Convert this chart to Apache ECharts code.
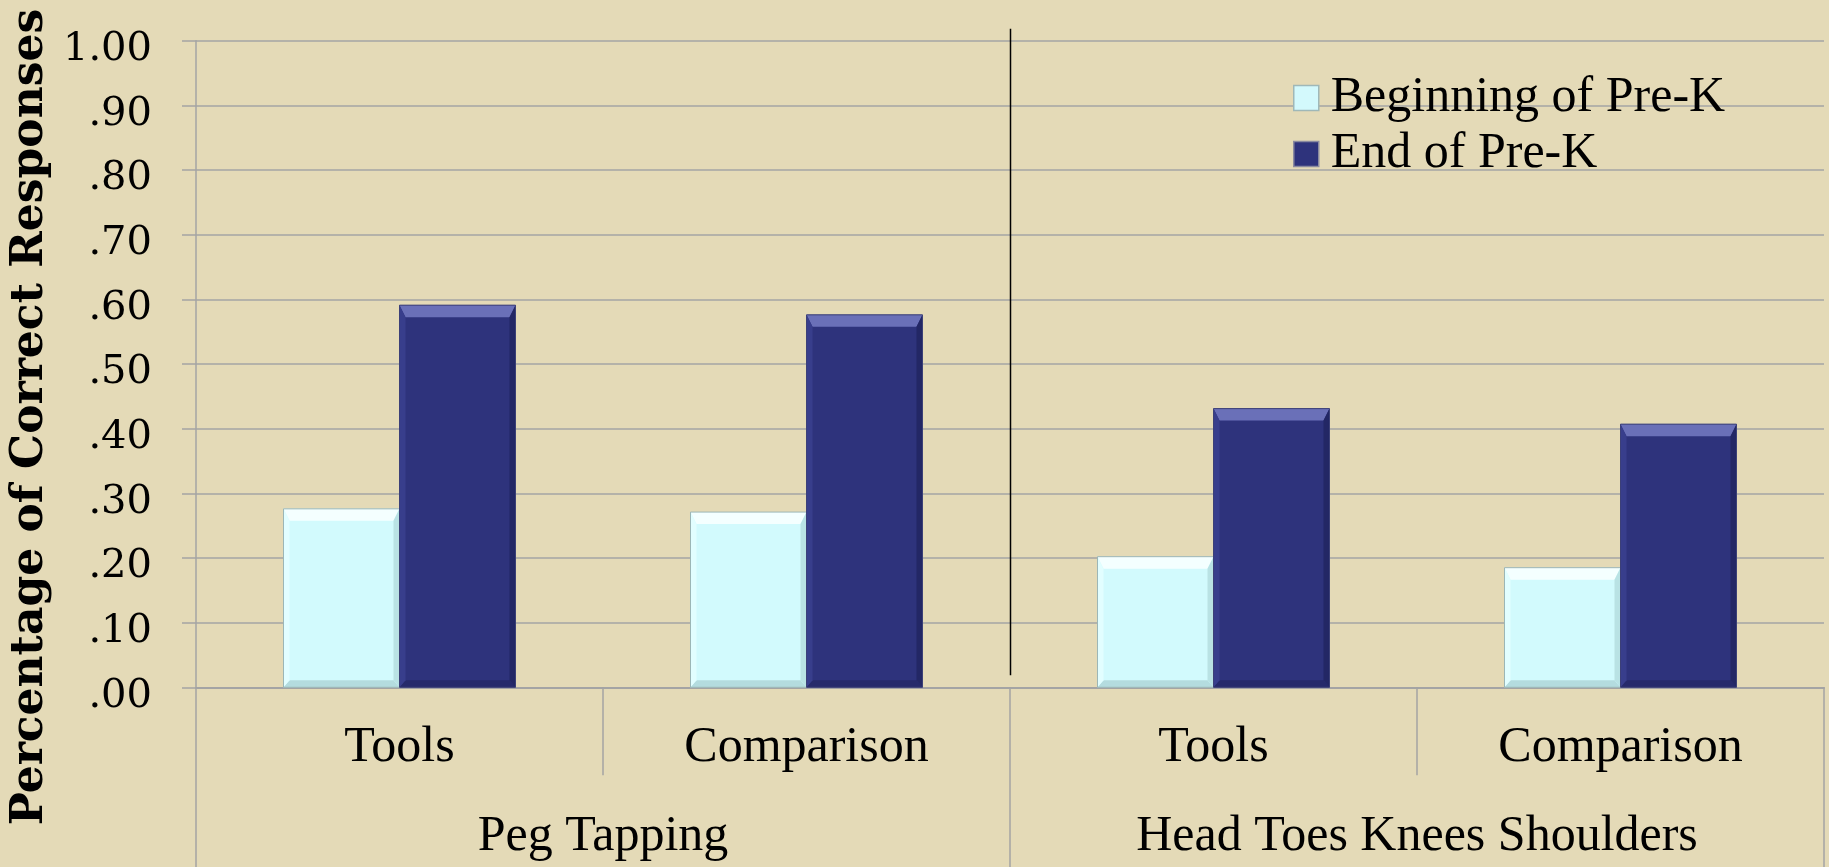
<!DOCTYPE html>
<html>
<head>
<meta charset="utf-8">
<script src="https://cdn.jsdelivr.net/npm/echarts@6/dist/echarts.min.js"></script>
<style>
html,body{margin:0;padding:0;background:#e4dab7;}
#chart{width:1829px;height:867px;}
</style>
</head>
<body>
<div id="chart"></div>
<script>
const categories = ['Tools', 'Comparison', 'Tools', 'Comparison'];
const groups = ['Peg Tapping', 'Head Toes Knees Shoulders'];
const seriesNames = ['Beginning of Pre-K', 'End of Pre-K'];
const beginningValues = [0.276, 0.271, 0.202, 0.185];
const endValues = [0.591, 0.576, 0.431, 0.407];
const yTickLabels = ['.00', '.10', '.20', '.30', '.40', '.50', '.60', '.70', '.80', '.90', '1.00'];
const yAxisTitle = 'Percentage of Correct Responses';

const gridColor = '#a4a4a4';
const palettes = [
  {main: '#d2fafd', top: '#f4ffff', left: '#e2feff', right: '#b9e2e4', bottom: '#b4dcdf', border: '#9cb6b6'},
  {main: '#2e337c', top: '#6a70b8', left: '#383e8c', right: '#232765', bottom: '#262a6b', border: '#3c4078'}
];
const chart = echarts.init(document.getElementById('chart'), null, {renderer: 'canvas'});

function makeRenderItem(seriesIdx) {
  const pal = palettes[seriesIdx];
  return function (params, api) {
    const idx = api.value(0);
    const val = api.value(1);
    const base = api.coord([idx, 0]);
    const topPt = api.coord([idx, val]);
    const band = api.size([1, 0])[0];
    const w = band * 0.285;
    const x0 = seriesIdx === 0 ? base[0] - w : base[0];
    const x1 = x0 + w;
    const y0 = topPt[1];
    const y1 = base[1];
    const bt = Math.min(12, (y1 - y0) / 2);
    const bs = 6;
    const bb = Math.min(7, (y1 - y0) / 2);
    return {
      type: 'group',
      children: [
        {type: 'rect', shape: {x: x0, y: y0, width: w, height: y1 - y0}, style: {fill: pal.main}},
        {type: 'polygon', shape: {points: [[x0, y0], [x1, y0], [x1 - bs, y0 + bt], [x0 + bs, y0 + bt]]}, style: {fill: pal.top}},
        {type: 'polygon', shape: {points: [[x0, y1], [x1, y1], [x1 - bs, y1 - bb], [x0 + bs, y1 - bb]]}, style: {fill: pal.bottom}},
        {type: 'polygon', shape: {points: [[x0, y0], [x0 + bs, y0 + bt], [x0 + bs, y1 - bb], [x0, y1]]}, style: {fill: pal.left}},
        {type: 'polygon', shape: {points: [[x1, y0], [x1 - bs, y0 + bt], [x1 - bs, y1 - bb], [x1, y1]]}, style: {fill: pal.right}},
        {type: 'rect', shape: {x: x0, y: y0, width: w, height: y1 - y0}, style: {fill: 'none', stroke: pal.border, lineWidth: 1}}
      ]
    };
  };
}

const option = {
  backgroundColor: '#e4dab7',
  animation: false,
  grid: {left: 196, right: 5, top: 40.7, bottom: 179.7, containLabel: false},
  legend: {
    orient: 'vertical',
    left: 1288,
    top: 68,
    itemWidth: 25,
    itemHeight: 25,
    itemGap: 6,
    icon: 'rect',
    textStyle: {fontFamily: 'Liberation Serif', fontSize: 50, lineHeight: 50, color: '#000', padding: [0, 0, 0, 7]},
    data: [
      {name: seriesNames[0], itemStyle: {color: '#d3f9fc', borderColor: '#9fb8b8', borderWidth: 1.5}},
      {name: seriesNames[1], itemStyle: {color: '#2e337c', borderColor: '#8a8aa0', borderWidth: 1.5}}
    ]
  },
  xAxis: [
    {
      type: 'category',
      data: categories,
      position: 'bottom',
      offset: 0,
      axisLine: {show: true, lineStyle: {color: gridColor, width: 2}},
      axisTick: {show: true, length: 88, lineStyle: {color: gridColor, width: 1.5}},
      axisLabel: {fontFamily: 'Liberation Serif', fontSize: 50, lineHeight: 50, color: '#000', margin: 36, interval: 0}
    },
    {
      type: 'category',
      data: groups,
      position: 'bottom',
      offset: 0,
      axisLine: {show: false},
      axisTick: {show: true, length: 182, lineStyle: {color: gridColor, width: 1.5}},
      axisLabel: {fontFamily: 'Liberation Serif', fontSize: 50, lineHeight: 50, color: '#000', margin: 125, interval: 0}
    }
  ],
  yAxis: {
    type: 'value',
    min: 0,
    max: 1,
    interval: 0.1,
    axisLine: {show: true, lineStyle: {color: gridColor, width: 1.5}},
    axisTick: {show: true, length: 14, lineStyle: {color: gridColor, width: 1.5}},
    splitLine: {show: true, lineStyle: {color: gridColor, width: 1.5}},
    axisLabel: {
      fontFamily: 'DejaVu Serif', fontSize: 40, color: '#000', margin: 44,
      verticalAlign: 'top', lineHeight: 18,
      formatter: function (v) { return yTickLabels[Math.round(v * 10)]; }
    }
  },
  series: [
    {
      name: seriesNames[0],
      type: 'custom',
      xAxisIndex: 0,
      itemStyle: {color: '#d3f9fc'},
      renderItem: makeRenderItem(0),
      encode: {x: 0, y: 1},
      data: beginningValues.map(function (v, i) { return [i, v]; })
    },
    {
      name: seriesNames[1],
      type: 'custom',
      xAxisIndex: 0,
      itemStyle: {color: '#2e337c'},
      renderItem: makeRenderItem(1),
      encode: {x: 0, y: 1},
      data: endValues.map(function (v, i) { return [i, v]; })
    }
  ]
};
chart.setOption(option);

// separator line between the two groups and rotated axis title
const c0 = chart.convertToPixel({xAxisIndex: 1}, groups[0]);
const c1 = chart.convertToPixel({xAxisIndex: 1}, groups[1]);
const sepX = Math.round((c0 + c1) / 2) + 0.5;
const yTop = chart.convertToPixel({yAxisIndex: 0}, 1);
const yBot = chart.convertToPixel({yAxisIndex: 0}, 0);
chart.setOption({
  graphic: [
    {
      type: 'line',
      shape: {x1: sepX, y1: yTop - 12, x2: sepX, y2: yBot - 12},
      style: {stroke: '#000', lineWidth: 1.5},
      z: 10
    },
    {
      type: 'text',
      x: 31,
      y: 417,
      rotation: Math.PI / 2,
      style: {
        text: yAxisTitle,
        font: 'bold 44px "DejaVu Serif"',
        fill: '#000',
        textAlign: 'center',
        textVerticalAlign: 'middle'
      }
    }
  ]
});
</script>
</body>
</html>
